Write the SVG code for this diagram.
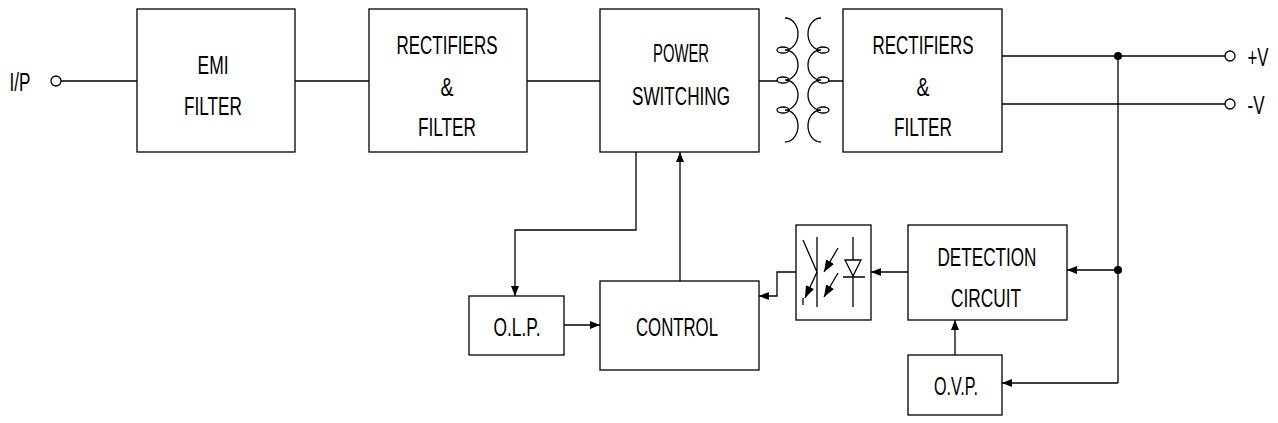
<svg xmlns="http://www.w3.org/2000/svg" width="1278" height="423" viewBox="0 0 1278 423">
<defs><marker id="a" markerWidth="10" markerHeight="8" refX="10" refY="4" orient="auto" markerUnits="userSpaceOnUse"><path d="M0,0L10,4L0,8z" fill="#000"/></marker>
<marker id="b" markerWidth="12" markerHeight="9" refX="12" refY="4.5" orient="auto" markerUnits="userSpaceOnUse"><path d="M0,0L12,4.5L0,9z" fill="#000"/></marker></defs>
<style>rect{fill:#fff;stroke:#000;stroke-width:1.3}
text{font-family:"Liberation Sans",Arial,sans-serif;font-size:26px;text-anchor:middle}
.c{fill:none;stroke:#000;stroke-width:1.3}
.l{fill:none;stroke:#000;stroke-width:1.3;marker-end:url(#a)}
.m{fill:none;stroke:#000;stroke-width:1.3;marker-end:url(#b)}</style>
<rect width="1278" height="423" style="stroke:none"/>
<g id="conn">
<path class="c" d="M61,81H137M295,81H369M527,81H600M759,81H778M828,81H843M1002,56H1225M1002,104H1225M1118,56V383"/>
<circle cx="56" cy="81" r="5" class="c"/><circle cx="1230" cy="56" r="5" class="c"/><circle cx="1230" cy="104" r="5" class="c"/>
<circle cx="1118" cy="56" r="4"/><circle cx="1118" cy="270" r="4"/>
<path class="l" d="M636,152V230H515V296"/>
<path class="l" d="M680,281V152"/>
<path class="l" d="M564,325H600"/>
<path class="l" d="M796,272H777V296H759"/>
<path class="l" d="M908,272H871"/>
<path class="l" d="M1118,270H1067"/>
<path class="l" d="M955,355V320"/>
<path class="l" d="M1118,383H1002"/>
</g>
<g id="xfmr">
<path class="c" d="M785,18A13,16 0 0 1 785,50A13,15 0 0 1 785,80A13,15 0 0 1 785,110A13,16 0 0 1 785,142"/>
<ellipse class="c" cx="783" cy="50" rx="6" ry="3"/><ellipse class="c" cx="783" cy="80" rx="6" ry="3"/><ellipse class="c" cx="783" cy="110" rx="6" ry="3"/>
<path class="c" d="M821,18A13,16 0 0 0 821,50A13,15 0 0 0 821,80A13,15 0 0 0 821,110A13,16 0 0 0 821,142"/>
<ellipse class="c" cx="823" cy="50" rx="6" ry="3"/><ellipse class="c" cx="823" cy="80" rx="6" ry="3"/><ellipse class="c" cx="823" cy="110" rx="6" ry="3"/>
</g>
<g id="opto">
<rect x="796" y="225" width="75" height="95"/>
<path class="c" d="M817,237V307M803,240L817,272"/>
<path class="m" d="M817,272L805,298"/><path class="c" d="M803,298V305"/>
<path class="m" d="M838,248L824,272"/><path class="m" d="M838,273L824,297"/>
<path class="c" d="M853,237V260M853,276V307M843,277H865"/>
<path class="c" d="M845,260H861L853,276z"/>
</g>
<g id="emi"><rect x="137" y="9" width="158" height="143"/><text x="213" y="74" textLength="31" lengthAdjust="spacingAndGlyphs">EMI</text><text x="213" y="115" textLength="58" lengthAdjust="spacingAndGlyphs">FILTER</text></g>
<g id="rect1"><rect x="369" y="9" width="158" height="143"/><text x="447" y="54" textLength="101" lengthAdjust="spacingAndGlyphs">RECTIFIERS</text><text x="447" y="96" textLength="13" lengthAdjust="spacingAndGlyphs">&amp;</text><text x="447" y="136" textLength="58" lengthAdjust="spacingAndGlyphs">FILTER</text></g>
<g id="power"><rect x="600" y="9" width="159" height="143"/><text x="681" y="62" textLength="56" lengthAdjust="spacingAndGlyphs">POWER</text><text x="681" y="105" textLength="98" lengthAdjust="spacingAndGlyphs">SWITCHING</text></g>
<g id="rect2"><rect x="843" y="9" width="159" height="143"/><text x="923" y="54" textLength="101" lengthAdjust="spacingAndGlyphs">RECTIFIERS</text><text x="923" y="96" textLength="13" lengthAdjust="spacingAndGlyphs">&amp;</text><text x="923" y="136" textLength="58" lengthAdjust="spacingAndGlyphs">FILTER</text></g>
<g id="det"><rect x="908" y="225" width="159" height="95"/><text x="987" y="266" textLength="99" lengthAdjust="spacingAndGlyphs">DETECTION</text><text x="986" y="307" textLength="70" lengthAdjust="spacingAndGlyphs">CIRCUIT</text></g>
<g id="ovp"><rect x="908" y="355" width="94" height="60"/><text x="956" y="395" textLength="44" lengthAdjust="spacingAndGlyphs">O.V.P.</text></g>
<g id="olp"><rect x="469" y="296" width="95" height="59"/><text x="517" y="336" textLength="47" lengthAdjust="spacingAndGlyphs">O.L.P.</text></g>
<g id="control"><rect x="600" y="281" width="159" height="89"/><text x="677" y="336" textLength="82" lengthAdjust="spacingAndGlyphs">CONTROL</text></g>
<text x="20" y="91" textLength="21" lengthAdjust="spacingAndGlyphs">I/P</text><text x="1258" y="66" textLength="21" lengthAdjust="spacingAndGlyphs">+V</text><text x="1256" y="114" textLength="17" lengthAdjust="spacingAndGlyphs">-V</text>
</svg>
